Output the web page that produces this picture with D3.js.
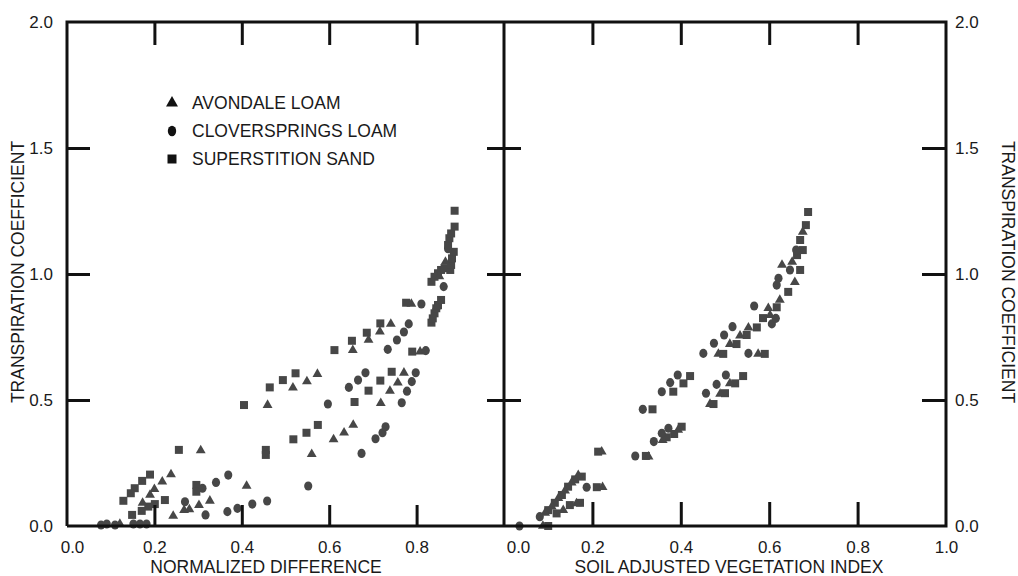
<!DOCTYPE html>
<html><head><meta charset="utf-8">
<script src="https://cdn.jsdelivr.net/npm/d3@7"></script>
<style>
html,body{margin:0;padding:0;background:#fff;}
text{font-family:"Liberation Sans",Arial,sans-serif;fill:#1a1a1a;}
</style></head>
<body><svg id="c" width="1018" height="576"></svg>
<script>
// ---- data ----
const yTicks = [0, 0.5, 1.0, 1.5, 2.0];
const xTicksLeft = [0, 0.2, 0.4, 0.6, 0.8];
const xTicksRight = [0, 0.2, 0.4, 0.6, 0.8, 1.0];
const legendLabels = ["AVONDALE LOAM", "CLOVERSPRINGS LOAM", "SUPERSTITION SAND"];
const xTitleLeft = "NORMALIZED DIFFERENCE";
const xTitleRight = "SOIL ADJUSTED VEGETATION INDEX";
const yTitle = "TRANSPIRATION COEFFICIENT";

// Normalized difference panel: [index, transpiration coefficient]
const ndviAvondale = [[0.306,0.30],[0.238,0.205],[0.218,0.176],[0.200,0.146],[0.190,0.123],[0.173,0.092],[0.243,0.040],[0.268,0.063],[0.280,0.066],[0.302,0.083],[0.327,0.100],[0.411,0.159],[0.121,0.008],[0.459,0.480],[0.517,0.549],[0.549,0.574],[0.573,0.603],[0.560,0.285],[0.610,0.344],[0.634,0.370],[0.655,0.401],[0.654,0.698],[0.690,0.738],[0.716,0.771],[0.741,0.802],[0.788,0.881],[0.808,0.692],[0.718,0.487],[0.739,0.536],[0.757,0.569],[0.771,0.608],[0.866,1.048],[0.852,0.99],[0.846,0.87]];
const ndviClover = [[0.078,0.004],[0.091,0.008],[0.110,0.004],[0.152,0.008],[0.167,0.008],[0.182,0.008],[0.270,0.096],[0.310,0.150],[0.341,0.173],[0.369,0.202],[0.317,0.044],[0.367,0.057],[0.390,0.070],[0.424,0.087],[0.458,0.099],[0.552,0.159],[0.597,0.484],[0.645,0.550],[0.666,0.579],[0.683,0.608],[0.674,0.288],[0.706,0.346],[0.722,0.370],[0.729,0.394],[0.734,0.701],[0.755,0.738],[0.771,0.770],[0.782,0.802],[0.811,0.881],[0.821,0.696],[0.766,0.489],[0.778,0.535],[0.789,0.573],[0.798,0.608],[0.872,1.10],[0.862,0.95]];
const ndviSuperstition = [[0.405,0.480],[0.256,0.302],[0.190,0.204],[0.172,0.179],[0.155,0.150],[0.146,0.130],[0.129,0.100],[0.149,0.044],[0.201,0.087],[0.186,0.077],[0.171,0.060],[0.224,0.103],[0.296,0.163],[0.296,0.136],[0.455,0.302],[0.455,0.282],[0.518,0.344],[0.548,0.370],[0.574,0.401],[0.464,0.550],[0.494,0.579],[0.523,0.606],[0.612,0.698],[0.652,0.735],[0.686,0.767],[0.717,0.804],[0.776,0.886],[0.790,0.692],[0.658,0.492],[0.690,0.537],[0.717,0.577],[0.743,0.612],[0.834,0.807],[0.837,0.824],[0.841,0.844],[0.845,0.864],[0.849,0.877],[0.856,0.897],[0.834,0.969],[0.841,0.989],[0.849,1.003],[0.856,1.016],[0.864,1.023],[0.877,1.016],[0.879,1.036],[0.881,1.062],[0.885,1.088],[0.872,1.115],[0.875,1.142],[0.879,1.161],[0.887,1.188],[0.887,1.251]];

// Soil adjusted vegetation index panel
const saviAvondale = [[0.088,0.0],[0.093,0.052],[0.108,0.077],[0.123,0.110],[0.138,0.140],[0.153,0.172],[0.168,0.202],[0.134,0.063],[0.164,0.090],[0.223,0.154],[0.221,0.295],[0.327,0.275],[0.359,0.341],[0.394,0.381],[0.466,0.484],[0.489,0.524],[0.511,0.566],[0.485,0.683],[0.511,0.722],[0.534,0.755],[0.553,0.787],[0.575,0.683],[0.598,0.864],[0.624,0.897],[0.629,1.036],[0.652,1.048],[0.676,1.167],[0.658,0.968],[0.602,0.837]];
const saviClover = [[0.035,0.0],[0.081,0.037],[0.187,0.154],[0.297,0.278],[0.339,0.335],[0.357,0.368],[0.372,0.388],[0.314,0.463],[0.357,0.533],[0.376,0.569],[0.393,0.599],[0.457,0.527],[0.481,0.562],[0.502,0.599],[0.451,0.685],[0.475,0.725],[0.498,0.758],[0.517,0.791],[0.553,0.685],[0.566,0.873],[0.606,0.802],[0.615,0.824],[0.617,0.956],[0.621,0.983],[0.647,1.016],[0.661,1.095]];
const saviSuperstition = [[0.100,0.0],[0.100,0.063],[0.115,0.092],[0.131,0.123],[0.145,0.156],[0.161,0.185],[0.176,0.196],[0.119,0.050],[0.149,0.083],[0.172,0.092],[0.210,0.154],[0.213,0.295],[0.321,0.278],[0.368,0.352],[0.385,0.365],[0.402,0.394],[0.336,0.463],[0.383,0.533],[0.406,0.566],[0.421,0.595],[0.474,0.484],[0.500,0.527],[0.523,0.566],[0.541,0.595],[0.496,0.683],[0.526,0.722],[0.549,0.758],[0.572,0.788],[0.590,0.683],[0.617,0.868],[0.643,0.929],[0.670,1.016],[0.663,1.075],[0.670,1.135],[0.683,1.194],[0.688,1.246],[0.676,1.095],[0.586,0.825]];

// ---- drawing ----
const svg = d3.select("#c");
const X0 = 67, XM = 504, X1 = 946, YT = 22, YB = 526;
const xL = d3.scaleLinear().domain([0, 1]).range([X0, XM]);
const xR = d3.scaleLinear().domain([0, 1]).range([XM, X1]);
const y = d3.scaleLinear().domain([0, 2]).range([YB, YT]);
const fmt = d3.format(".1f");
const ink = "#111";
const markColor = "#474747";

function styleTicks(g){
  g.select(".domain").remove();
  g.selectAll(".tick line").attr("stroke", ink).attr("stroke-width", 3);
  g.selectAll(".tick text").attr("font-size", 17).attr("fill", "#1a1a1a")
    .attr("font-family", '"Liberation Sans", Arial, sans-serif');
}

// data markers
const symFor = {
  tri: d3.symbol().type(d3.symbolTriangle).size(42),
  circ: d3.symbol().type(d3.symbolCircle).size(52),
  sq: d3.symbol().type(d3.symbolSquare).size(64)
};
function plot(data, xs, kind){
  svg.append("g").selectAll("path").data(data).join("path")
    .attr("d", symFor[kind]())
    .attr("transform", d => `translate(${xs(d[0])},${y(d[1])})` + (kind === "circ" ? " scale(1,1.12)" : ""))
    .attr("fill", markColor);
}
plot(ndviSuperstition, xL, "sq");
plot(ndviAvondale, xL, "tri");
plot(ndviClover, xL, "circ");
plot(saviSuperstition, xR, "sq");
plot(saviAvondale, xR, "tri");
plot(saviClover, xR, "circ");

// frame
svg.append("path")
  .attr("d", `M${X0},${YB}V${YT}H${X1}V${YB}H${X0}M${XM},${YT}V${YB}`)
  .attr("fill", "none").attr("stroke", ink).attr("stroke-width", 3);

// bottom ticks (inward) + labels
const bl = svg.append("g").attr("transform", `translate(0,${YB})`)
  .call(d3.axisBottom(xL).tickValues(xTicksLeft).tickFormat(fmt).tickSizeInner(-21).tickSizeOuter(0).tickPadding(15));
styleTicks(bl);
bl.selectAll(".tick text").filter(d => d === 0).attr("dx", 5);
bl.selectAll(".tick line").filter(d => d === 0).remove();
const br = svg.append("g").attr("transform", `translate(0,${YB})`)
  .call(d3.axisBottom(xR).tickValues(xTicksRight).tickFormat(fmt).tickSizeInner(-24).tickSizeOuter(0).tickPadding(15));
styleTicks(br);
br.selectAll(".tick text").filter(d => d === 0).attr("dx", 14);
br.selectAll(".tick line").filter(d => d === 0 || d === 1).remove();

// top ticks (inward)
const tl = svg.append("g").attr("transform", `translate(0,${YT})`)
  .call(d3.axisBottom(xL).tickValues(xTicksLeft.slice(1)).tickFormat("").tickSizeInner(23).tickSizeOuter(0));
styleTicks(tl);
const tr = svg.append("g").attr("transform", `translate(0,${YT})`)
  .call(d3.axisBottom(xR).tickValues(xTicksRight.slice(1, 5)).tickFormat("").tickSizeInner(23).tickSizeOuter(0));
styleTicks(tr);

// left axis labels and ticks
const ll = svg.append("g").attr("transform", `translate(${X0},0)`)
  .call(d3.axisLeft(y).tickValues(yTicks).tickFormat(fmt).tickSize(0).tickPadding(14));
styleTicks(ll);
const lt = svg.append("g").attr("transform", `translate(${X0},0)`)
  .call(d3.axisRight(y).tickValues(yTicks.slice(1, 4)).tickFormat("").tickSizeInner(23).tickSizeOuter(0));
styleTicks(lt);

// divider ticks crossing
[d3.axisLeft, d3.axisRight].forEach(a => {
  const g = svg.append("g").attr("transform", `translate(${XM},0)`)
    .call(a(y).tickValues(yTicks.slice(1, 4)).tickFormat("").tickSizeInner(17).tickSizeOuter(0));
  styleTicks(g);
});

// right axis labels and ticks
const rl = svg.append("g").attr("transform", `translate(${X1},0)`)
  .call(d3.axisRight(y).tickValues(yTicks).tickFormat(fmt).tickSize(0).tickPadding(9));
styleTicks(rl);
const rt = svg.append("g").attr("transform", `translate(${X1},0)`)
  .call(d3.axisLeft(y).tickValues(yTicks.slice(1, 4)).tickFormat("").tickSizeInner(24).tickSizeOuter(0));
styleTicks(rt);

// axis titles
svg.append("text").attr("x", 266).attr("y", 573)
  .attr("text-anchor", "middle").attr("font-size", 17.5).text(xTitleLeft);
svg.append("text").attr("x", 729).attr("y", 573)
  .attr("text-anchor", "middle").attr("font-size", 17.5).text(xTitleRight);
svg.append("text").attr("transform", `translate(24,272) rotate(-90)`)
  .attr("text-anchor", "middle").attr("font-size", 17.5).text(yTitle);
svg.append("text").attr("transform", `translate(1002,272) rotate(90)`)
  .attr("text-anchor", "middle").attr("font-size", 17.5).text(yTitle);

// legend
const legSyms = [
  d3.symbol().type(d3.symbolTriangle).size(62),
  d3.symbol().type(d3.symbolCircle).size(68),
  d3.symbol().type(d3.symbolSquare).size(81)
];
const legY = [103, 131, 159];
legendLabels.forEach((lab, i) => {
  svg.append("path").attr("d", legSyms[i]())
    .attr("transform", `translate(172,${legY[i]})` + (i === 1 ? " scale(0.9,1.15)" : ""))
    .attr("fill", ink);
  svg.append("text").attr("x", 192).attr("y", legY[i]).attr("dy", "0.36em")
    .attr("font-size", 17.5).text(lab);
});
</script></body></html>
